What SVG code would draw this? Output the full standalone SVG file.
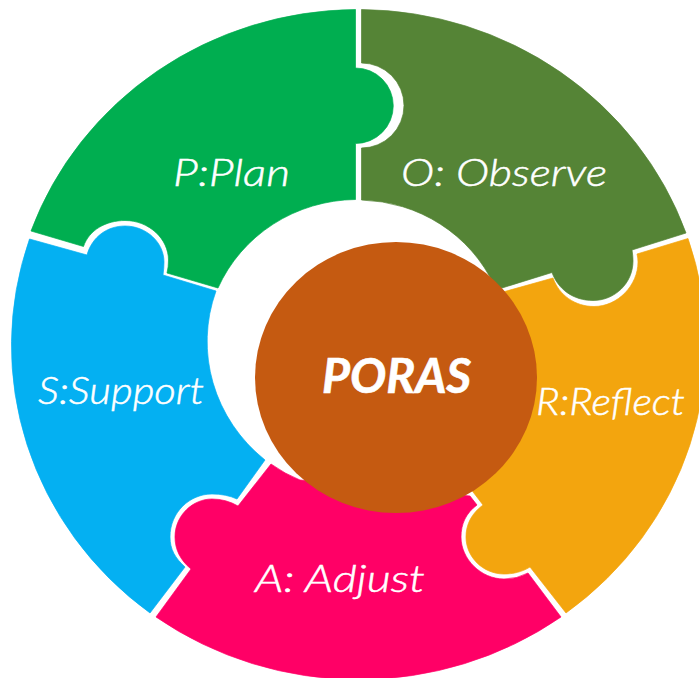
<svg xmlns="http://www.w3.org/2000/svg" width="699" height="678" viewBox="0 0 699 678">
<style>
.seg{stroke-width:.7;stroke-linejoin:round}
.lbl{font-family:"Lato","Liberation Sans",sans-serif;font-style:italic;font-size:38px;fill:#fff;stroke:#fff;stroke-width:.5;font-weight:300}
.ctr{font-family:"Lato","Liberation Sans",sans-serif;font-style:italic;font-weight:700;font-size:47px;fill:#fff;stroke:#fff;stroke-width:.6}
</style>
<rect width="699" height="678" fill="#fff"/>
<g id="node-plan">
<path class="seg" fill="#00ae50" stroke="#00ae50" d="M355.500 9.500A348 335 0 0 0 31 231L83.500 246.500C89 230 106 220.500 125 220.500C149 220.500 168.500 239 168.500 260Q168.500 267 167 273L218 288A152 147 0 0 1 355.500 199.500V143.500A37.600 37.600 0 1 0 355.500 68Z"/>
<text class="lbl" x="173" y="186" textLength="117" lengthAdjust="spacingAndGlyphs">P:Plan</text>
</g>
<g id="node-observe">
<path class="seg" fill="#558436" stroke="#558436" d="M361.500 9.500A348 335 0 0 1 686 233L632 250Q633 256 633 261C633 283 615 300.500 593 300.500C573 300.500 558 289 552 272.500L502 288Q498 287 494 285A150 145 0 0 0 361.500 200V148A42.500 42.500 0 0 0 361.500 63Z"/>
<text class="lbl" x="401" y="186" textLength="206" lengthAdjust="spacingAndGlyphs">O: Observe</text>
</g>
<g id="node-reflect">
<path class="seg" fill="#f3a50e" stroke="#f3a50e" d="M688 238.500A348 335 0 0 1 566 613L530 567C522 572 513 574 504 574C483 574 466 557 466 537C466 524 472 513 483 505L470 488L520 400L503 292L553 278C559 295 575 306.500 594 306.500C618 306.500 638 285 638 262Q638 258 637 254Z"/>
<text class="lbl" x="536" y="415" textLength="149" lengthAdjust="spacingAndGlyphs">R:Reflect</text>
</g>
<g id="node-adjust">
<path class="seg" fill="#ff0066" stroke="#ff0066" d="M271 464Q285 474 300 480L470 496L477 505C466 513 461 524 461 537C461 559 481 579 504 579Q517 579 528 573L561 617A348 335 0 0 1 156 617L191 569C180 560 175 549 175 537C175 515 193 499 212 499Q226 499 238 506Z"/>
<text class="lbl" x="255" y="592" textLength="170" lengthAdjust="spacingAndGlyphs">A: Adjust</text>
</g>
<g id="node-support">
<path class="seg" fill="#04b0f2" stroke="#04b0f2" d="M29.500 239A348 335 0 0 0 150 613L185 567C175 558 170 549 170 537C170 512 190 494 212 494Q226 494 237 499L265 460A160 154 0 0 1 216 291L163 275Q164 268 164 262C164 242 146 226 125 226C107 226 92 237 87 255Z"/>
<text class="lbl" x="38" y="404" textLength="166" lengthAdjust="spacingAndGlyphs">S:Support</text>
</g>
<g id="node-poras">
<ellipse cx="396" cy="377.500" rx="141" ry="135.500" fill="#c55a11"/>
<text class="ctr" x="322" y="393" textLength="149" lengthAdjust="spacingAndGlyphs">PORAS</text>
</g>
<g id="connectors"/>
</svg>
